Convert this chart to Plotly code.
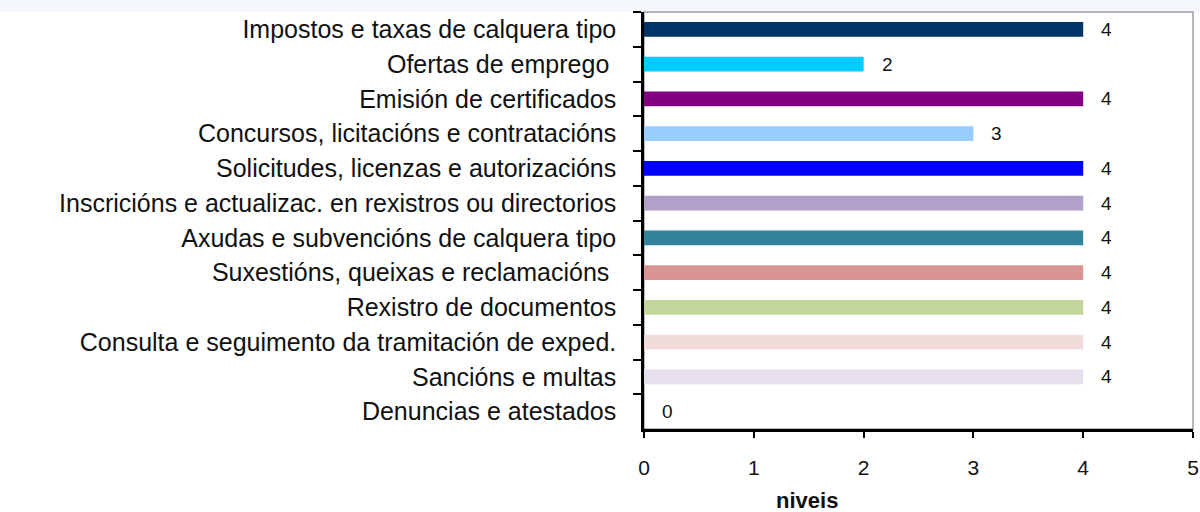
import plotly.graph_objects as go

# Categories top to bottom as in the chart
categorias = [
    "Impostos e taxas de calquera tipo",
    "Ofertas de emprego ",
    "Emisión de certificados",
    "Concursos, licitacións e contratacións",
    "Solicitudes, licenzas e autorizacións",
    "Inscricións e actualizac. en rexistros ou directorios",
    "Axudas e subvencións de calquera tipo",
    "Suxestións, queixas e reclamacións ",
    "Rexistro de documentos",
    "Consulta e seguimento da tramitación de exped.",
    "Sancións e multas",
    "Denuncias e atestados",
]
niveis = [4, 2, 4, 3, 4, 4, 4, 4, 4, 4, 4, 0]
cores = [
    "#003366", "#00CCFF", "#800080", "#99CCFF", "#0000FF", "#B1A0C7",
    "#31849B", "#D99594", "#C3D69B", "#F2DCDB", "#E6E0EC", "#FFFFFF",
]

fig = go.Figure(go.Bar(
    x=niveis,
    y=categorias,
    orientation="h",
    marker=dict(color=cores, line=dict(width=0)),
    width=0.43,
    hoverinfo="x+y",
))

# value labels, a bit to the right of each bar end
for cat, v in zip(categorias, niveis):
    fig.add_annotation(x=v, y=cat, text=str(v), showarrow=False,
                       xanchor="left", xshift=16,
                       font=dict(size=19, color="#111111"))

# axis title placed like the original (not centred on the plot)
fig.add_annotation(x=0.297, y=-0.172, xref="paper", yref="paper",
                   xanchor="center", yanchor="middle",
                   text="<b>niveis</b>", showarrow=False,
                   font=dict(size=22, color="#111111"))

# faint band at the very top, light grey frame on top/right
fig.add_shape(type="rect", xref="paper", yref="paper", x0=-1.2, x1=1.02,
              y0=1.0, y1=1.04, line=dict(width=0), fillcolor="#F3F6FA",
              layer="below")
fig.add_shape(type="rect", xref="paper", yref="paper", x0=0, x1=1, y0=0, y1=1,
              line=dict(color="#A0A0A0", width=1.5), fillcolor="white",
              layer="below")

fig.update_layout(
    width=1200, height=512,
    margin=dict(l=644, r=7, t=12, b=83),
    paper_bgcolor="white",
    plot_bgcolor="white",
    font=dict(family="Liberation Sans, Arial, sans-serif", color="#111111"),
    showlegend=False,
)

fig.update_xaxes(
    range=[0, 5], dtick=1, showgrid=False, zeroline=False,
    showline=True, linecolor="black", linewidth=2.5,
    ticks="outside", ticklen=6, tickwidth=2, tickcolor="black",
    tickfont=dict(size=21),
    ticklabelstandoff=12,
    automargin=False,
)

fig.update_yaxes(
    autorange="reversed", showgrid=False, zeroline=False,
    showline=True, linecolor="black", linewidth=2.5,
    ticks="outside", ticklen=8, tickwidth=2, tickcolor="black",
    tickson="boundaries",
    tickfont=dict(size=25),
    ticklabelstandoff=20,
    automargin=False,
)

# page body margin removed so the 1200x512 figure fills the window exactly
fig.write_html("out.html",
               config={"displayModeBar": False},
               post_script="document.body.style.margin='0px';"
                           "document.body.style.overflow='hidden';")
